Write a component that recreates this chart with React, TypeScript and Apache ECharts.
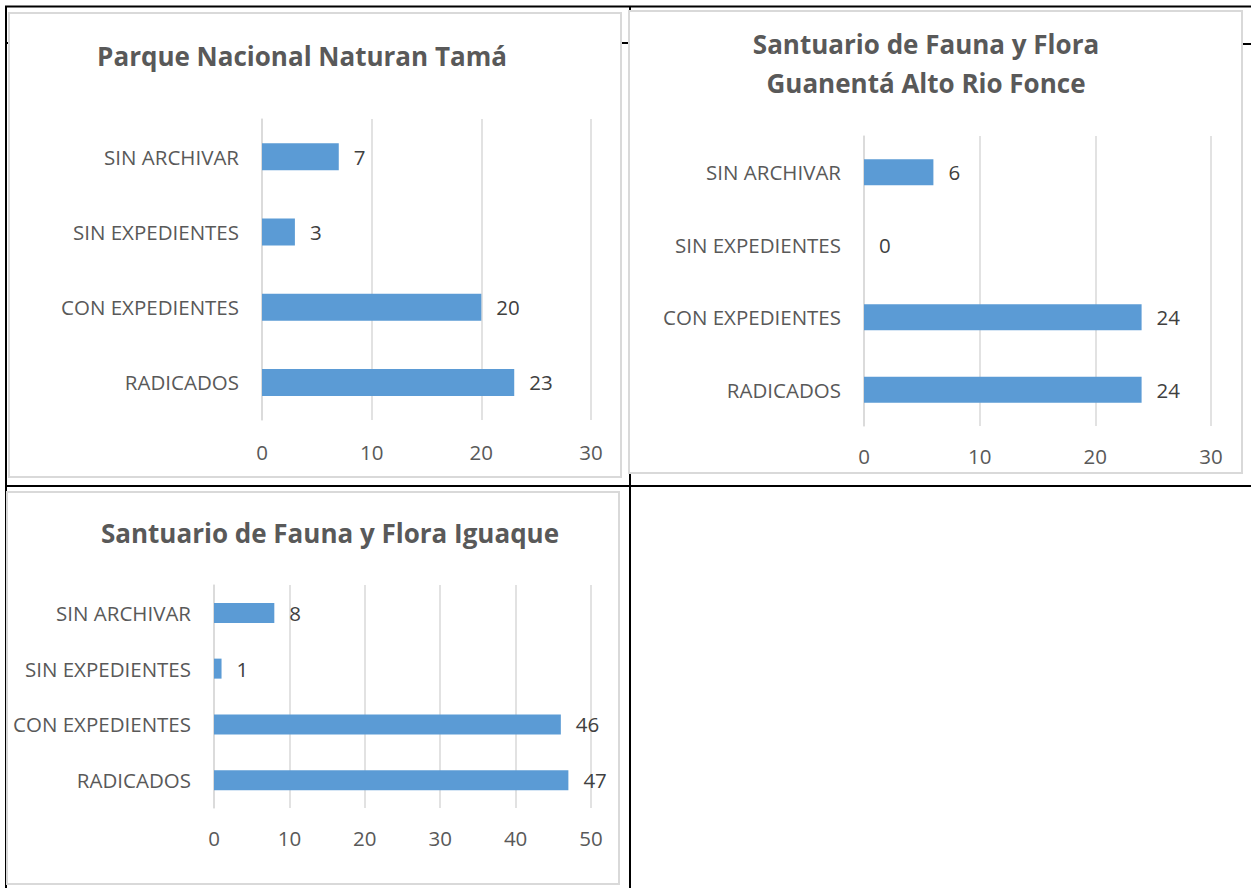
import React, { useEffect, useRef } from "react";
import * as echarts from "echarts";

const categories = ["RADICADOS", "CON EXPEDIENTES", "SIN EXPEDIENTES", "SIN ARCHIVAR"];
const tamaValues = [23, 20, 3, 7];
const guanentaValues = [24, 24, 0, 6];
const iguaqueValues = [47, 46, 1, 8];
const titleTama = "Parque Nacional Naturan Tamá";
const titleGuanenta = "Santuario de Fauna y Flora\nGuanentá Alto Rio Fonce";
const titleIguaque = "Santuario de Fauna y Flora Iguaque";
const axisMax1 = 30;
const axisMax2 = 30;
const axisMax3 = 50;
const axisStep = 10;

const FONT = "'Open Sans', sans-serif";
const GRAY_TEXT = "#595959";
const GRID_COLOR = "#D9D9D9";
const BAR_COLOR = "#5B9BD5";
const LABEL_SIZE = 20.5;
const TITLE_SIZE = 26;

export default function App() {
  const ref = useRef<HTMLDivElement>(null);
  useEffect(() => {
    if (!ref.current) return;
    const chart = echarts.init(ref.current, undefined, { renderer: "svg" });

    const grids = [
      { left: 262, top: 119, width: 329, height: 301 },
      { left: 864, top: 136, width: 347, height: 290 },
      { left: 214, top: 585, width: 377, height: 223 },
    ];
    const maxes = [axisMax1, axisMax2, axisMax3];
    const datas = [tamaValues, guanentaValues, iguaqueValues];
    const barWidths = [27, 26, 20];
    const labelMargins = [21, 19, 19];

    const blackLine = (x1: number, y1: number, x2: number, y2: number) => ({
      type: "line",
      z: -20,
      silent: true,
      shape: { x1, y1, x2, y2 },
      style: { stroke: "#000", lineWidth: 2 },
    });
    const panel = (x: number, y: number, w: number, h: number) => ({
      type: "rect",
      z: -10,
      silent: true,
      shape: { x, y, width: w, height: h },
      style: { fill: "#fff", stroke: GRID_COLOR, lineWidth: 2 },
    });

    chart.setOption({
      animation: false,
      backgroundColor: "#fff",
      textStyle: { fontFamily: FONT },
      title: [
        {
          text: titleTama,
          left: 297,
          top: 38,
          textAlign: "center",
          textStyle: { fontFamily: FONT, fontSize: TITLE_SIZE, fontWeight: "bold", color: GRAY_TEXT },
        },
        {
          text: titleGuanenta,
          left: 921,
          top: 19,
          textAlign: "center",
          textStyle: { fontFamily: FONT, fontSize: TITLE_SIZE, fontWeight: "bold", color: GRAY_TEXT, lineHeight: 39 },
        },
        {
          text: titleIguaque,
          left: 325,
          top: 515,
          textAlign: "center",
          textStyle: { fontFamily: FONT, fontSize: TITLE_SIZE, fontWeight: "bold", color: GRAY_TEXT },
        },
      ],
      grid: grids.map((g) => ({ ...g, containLabel: false })),
      xAxis: grids.map((_, i) => ({
        type: "value",
        gridIndex: i,
        min: 0,
        max: maxes[i],
        interval: axisStep,
        axisLine: { show: false },
        axisTick: { show: false },
        splitLine: { show: true, lineStyle: { color: GRID_COLOR, width: 1.5 } },
        axisLabel: { color: GRAY_TEXT, fontSize: LABEL_SIZE, fontFamily: FONT, margin: labelMargins[i] },
      })),
      yAxis: grids.map((_, i) => ({
        type: "category",
        gridIndex: i,
        data: categories,
        axisLine: { show: true, lineStyle: { color: GRID_COLOR, width: 1.5 } },
        axisTick: { show: false },
        axisLabel: { color: GRAY_TEXT, fontSize: LABEL_SIZE, fontFamily: FONT, margin: 23 },
      })),
      series: datas.map((d, i) => ({
        type: "bar",
        xAxisIndex: i,
        yAxisIndex: i,
        data: d,
        barWidth: barWidths[i],
        itemStyle: { color: BAR_COLOR },
        label: {
          show: true,
          position: "right",
          distance: 15,
          color: "#404040",
          fontSize: LABEL_SIZE,
          fontFamily: FONT,
        },
      })),
      graphic: [
        blackLine(5, 6.5, 1251, 6.5),
        blackLine(6, 6, 6, 888),
        blackLine(630, 6, 630, 888),
        blackLine(5, 486, 1251, 486),
        blackLine(5, 43, 10, 43),
        blackLine(621, 43, 630, 43),
        blackLine(1242, 44, 1251, 44),
        panel(9, 13, 612, 464),
        panel(629, 11, 613, 462),
        panel(7, 492, 612, 392),
      ],
    });
    return () => chart.dispose();
  }, []);
  return (
    <div
      ref={ref}
      style={{ position: "fixed", left: 0, top: 0, width: 1251, height: 888 }}
    />
  );
}
